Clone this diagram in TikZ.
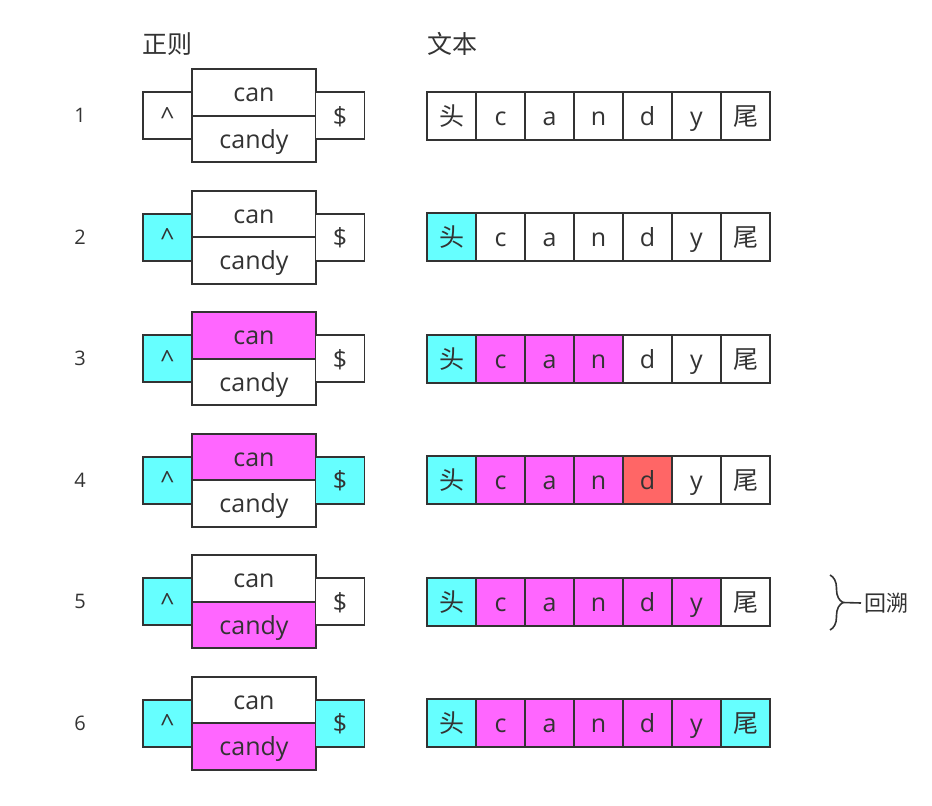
\documentclass[tikz,border=0pt]{standalone}
\usepackage{fontspec}
\setmainfont{Open Sans}
\newfontfamily\cjk{Noto Sans CJK SC}
\usetikzlibrary{decorations.pathreplacing}
\definecolor{cy}{HTML}{66FFFF}
\definecolor{mg}{HTML}{FF66FF}
\definecolor{rd}{HTML}{FF6666}
\definecolor{w}{HTML}{FFFFFF}
\definecolor{ink}{HTML}{333333}
\tikzset{
  box/.style={draw=ink, line width=1.6pt, inner sep=0pt, text=ink, font=\fontsize{25}{30}\selectfont, text height=20pt, text depth=1pt},
  side/.style={box, minimum width=49pt, minimum height=47pt},
  mid/.style={box, minimum width=124pt, minimum height=46.5pt},
  cellbox/.style={box, minimum width=49pt, minimum height=48pt},
  num/.style={text=ink, font=\fontsize{20}{24}\selectfont},
  head/.style={text=ink, font=\cjk\fontsize{25}{30}\selectfont},
}
\newcommand\letterof[1]{\ifcase#1\or{\cjk 头}\or c\or a\or n\or d\or y\or{\cjk 尾}\fi}
\newcommand\regexrow[7]{%
  \node[num] (n#1) at (80,#2) {#1};
  \node[side, fill=#3] (caret#1) at (167.5,#2) {\textasciicircum};
  \node[mid, fill=#4] (can#1) at (254,#2-23.25) {can};
  \node[mid, fill=#5] (candy#1) at (254,#2+23.25) {candy};
  \node[side, fill=#6] (dollar#1) at (340,#2) {\$};
  \foreach \col [count=\i] in {#7} {
    \node[cellbox, fill=\col] (t#1-\i) at ({451.5+49*(\i-1)},#2) {\letterof{\i}};
  }
}
\begin{document}
\begin{tikzpicture}[x=1pt,y=-1pt]
\useasboundingbox (0,0) rectangle (932,806);
\node[head] (hr) at (167.5,44) {正则};
\node[head] (ht) at (452,44) {文本};
\regexrow{1}{115.7}{w}{w}{w}{w}{w,w,w,w,w,w,w}
\regexrow{2}{237.2}{cy}{w}{w}{w}{cy,w,w,w,w,w,w}
\regexrow{3}{358.7}{cy}{mg}{w}{w}{cy,mg,mg,mg,w,w,w}
\regexrow{4}{480.2}{cy}{mg}{w}{cy}{cy,mg,mg,mg,rd,w,w}
\regexrow{5}{601.7}{cy}{w}{mg}{w}{cy,mg,mg,mg,mg,mg,w}
\regexrow{6}{723.2}{cy}{w}{mg}{cy}{cy,mg,mg,mg,mg,mg,cy}
\coordinate (bt) at (830,575);
\coordinate (bb) at (830,630);
\draw[ink, line width=1.6pt, decorate, decoration={brace, amplitude=13pt}] (bt) -- (bb);
\coordinate (tip) at (843,602.5);
\node[text=ink, font=\cjk\fontsize{22}{26}\selectfont, anchor=west] (bk) at (861,603) {回溯};
\draw[ink, line width=1.6pt] (tip) -- (bk.west);
\end{tikzpicture}
\end{document}
